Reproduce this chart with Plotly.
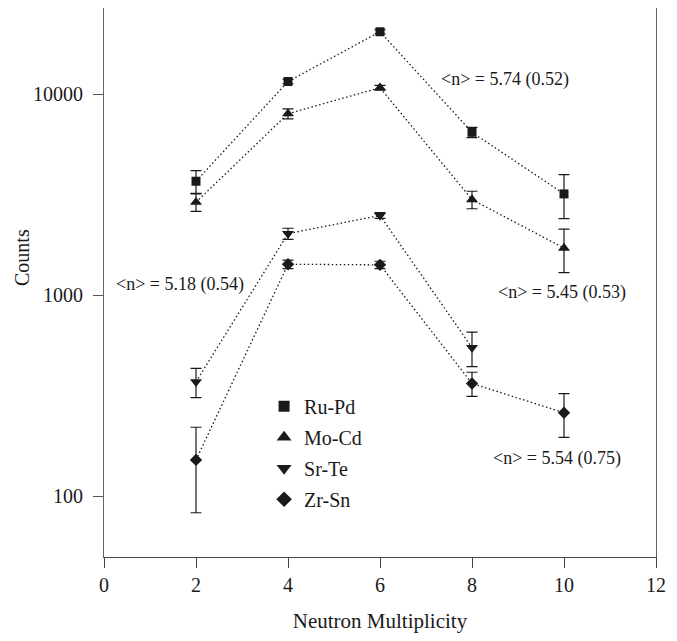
import math
import plotly.graph_objects as go

x_vals = [2, 4, 6, 8, 10]
ru_pd = [3700, 11600, 20500, 6480, 3200]
ru_pd_err = [480, 300, 500, 380, 790]
mo_cd = [2910, 8020, 10800, 3000, 1720]
mo_cd_err = [290, 460, 300, 300, 420]
sr_te_x = [2, 4, 6, 8]
sr_te = [372, 2030, 2500, 550]
sr_te_err = [62, 130, 80, 107]
zr_sn = [152, 1430, 1420, 365, 261]
zr_sn_err = [69, 70, 60, 50, 64]

series_names = ["Ru-Pd", "Mo-Cd", "Sr-Te", "Zr-Sn"]
ann_texts = ["&lt;n&gt; = 5.74 (0.52)", "&lt;n&gt; = 5.18 (0.54)",
             "&lt;n&gt; = 5.45 (0.53)", "&lt;n&gt; = 5.54 (0.75)"]
ann_x = [8.72, 1.66, 9.96, 9.84]
ann_y = [11900, 1130, 1040, 155]

FONT = "'Liberation Serif', 'Times New Roman', Times, serif"
INK = "#1a1a1a"

series = [
    (series_names[0], x_vals, ru_pd, ru_pd_err, "square", 9, 11),
    (series_names[1], x_vals, mo_cd, mo_cd_err, "triangle-up", 10.5, 13),
    (series_names[2], sr_te_x, sr_te, sr_te_err, "triangle-down", 10.5, 13),
    (series_names[3], x_vals, zr_sn, zr_sn_err, "diamond", 9.5, 12),
]

fig = go.Figure()
for name, xs, ys, es, sym, sz, lsz in series:
    fig.add_trace(go.Scatter(
        x=xs, y=ys, mode="lines", showlegend=False,
        line=dict(color=INK, width=1.3, dash="1.5px,2.5px"), hoverinfo="skip"))
for name, xs, ys, es, sym, sz, lsz in series:
    fig.add_trace(go.Scatter(
        x=xs, y=ys, mode="markers", name=name, showlegend=False,
        marker=dict(symbol=sym, size=sz, color=INK),
        error_y=dict(type="data", array=es, visible=True, color=INK,
                     thickness=1.2, width=5.5)))
for name, xs, ys, es, sym, sz, lsz in series:
    fig.add_trace(go.Scatter(
        x=[None], y=[None], mode="markers", name=name, legendgroup=name,
        marker=dict(symbol=sym, size=lsz, color=INK)))

for t, ax, ay in zip(ann_texts, ann_x, ann_y):
    fig.add_annotation(x=ax, y=math.log10(ay), text=t, showarrow=False,
                       xref="x", yref="y", yanchor="middle",
                       font=dict(family=FONT, size=18, color=INK))

# plot area: left 96 (+8 body margin) -> 104, width 552; top 0, height 549
fig.add_annotation(x=(22 - 104) / 552, xref="paper",
                   y=(557 - 258) / 549, yref="paper",
                   text="Counts", showarrow=False, textangle=-90,
                   xanchor="center", yanchor="middle",
                   font=dict(family=FONT, size=20, color=INK))

fig.update_layout(
    width=669, height=633,
    margin=dict(l=96, r=21, t=0, b=84),
    paper_bgcolor="white", plot_bgcolor="white",
    font=dict(family=FONT, size=20, color=INK),
    showlegend=True,
    legend=dict(x=0.29, xanchor="left", y=0.31, yanchor="top",
                bgcolor="rgba(0,0,0,0)", tracegroupgap=2,
                font=dict(family=FONT, size=20, color=INK)),
    xaxis=dict(range=[0, 12], tickvals=[0, 2, 4, 6, 8, 10, 12],
               ticks="outside", ticklen=10, tickcolor="#444",
               showline=True, linecolor="#444", linewidth=1, mirror=True,
               showgrid=False, zeroline=False,
               tickfont=dict(family=FONT, size=20, color=INK),
               title=dict(text="Neutron Multiplicity", standoff=18,
                          font=dict(family=FONT, size=21, color=INK))),
    yaxis=dict(type="log", range=[1.699, 4.43],
               tickvals=[100, 1000, 10000], ticktext=["100", "1000", "10000"],
               ticks="outside", ticklen=10, tickcolor="#555",
               tickfont=dict(family=FONT, size=20, color=INK),
               showline=True, linecolor="#666", linewidth=1, mirror=True,
               showgrid=False, zeroline=False, ticklabelstandoff=6),
)

fig.write_html("out.html")
